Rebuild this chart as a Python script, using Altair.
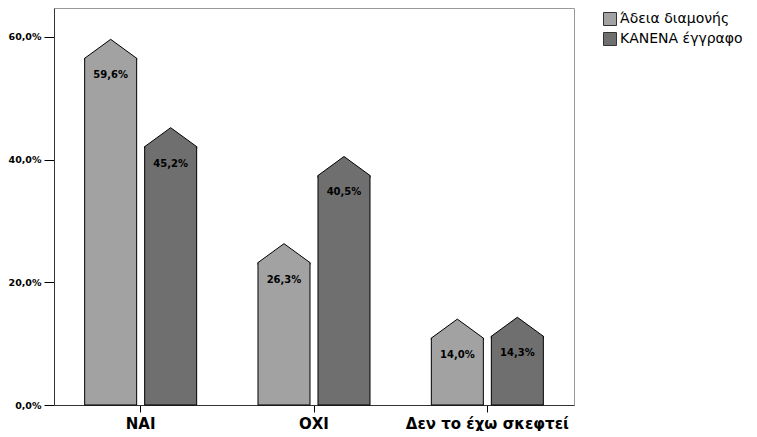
import altair as alt
import pandas as pd

categories = ["ΝΑΙ", "ΟΧΙ", "Δεν το έχω σκεφτεί"]
series = ["Άδεια διαμονής", "ΚΑΝΕΝΑ έγγραφο"]
permit_values = [59.6, 26.3, 14.0]
none_values = [45.2, 40.5, 14.3]
y_ticks = [0, 20, 40, 60]
colors = ["#a2a2a2", "#6f6f6f"]

rows = []
for s, vals in zip(series, [permit_values, none_values]):
    for c, v in zip(categories, vals):
        rows.append({"cat": c, "series": s, "value": v,
                     "label": f"{v:.1f}".replace(".", ",") + "%"})
df = pd.DataFrame(rows)

FONT = "DejaVu Sans"
PLOT_W, PLOT_H = 520, 397
Y_MAX = 64.7
CAP_PX = 19
cap = CAP_PX * Y_MAX / PLOT_H

x = alt.X("cat:N", sort=categories,
          scale=alt.Scale(paddingInner=0, paddingOuter=0),
          axis=alt.Axis(title=None, labelAngle=0, labelFont=FONT, labelFontSize=15,
                        labelFontWeight="bold", labelColor="black", tickSize=7,
                        tickColor="black", domainColor="#333", labelPadding=4))
xo = alt.XOffset("series:N", sort=series,
                 scale=alt.Scale(paddingInner=0.1333, paddingOuter=0.511))
y_scale = alt.Scale(domain=[0, Y_MAX], nice=False, zero=True)
color_scale = alt.Scale(domain=series, range=colors)

base = alt.Chart(df).transform_calculate(base="datum.value - %f" % cap)

bars = base.mark_bar(stroke="black", strokeWidth=1).encode(
    x=x, xOffset=xo,
    y=alt.Y("base:Q", scale=y_scale,
            axis=alt.Axis(title=None, values=y_ticks,
                          labelExpr="replace(format(datum.value, '.1f'), '.', ',') + '%'",
                          labelFont=FONT, labelFontSize=9.5, labelFontWeight="bold",
                          labelColor="black", tickSize=10, tickColor="black",
                          domainColor="#333", labelPadding=3, minExtent=40,
                          maxExtent=40, grid=False)),
    color=alt.Color("series:N", sort=series, scale=color_scale,
                    legend=alt.Legend(title=None, orient="none", legendX=549, legendY=4,
                                      symbolType="square", symbolSize=169,
                                      symbolStrokeColor="#333", symbolStrokeWidth=1,
                                      labelFont=FONT, labelFontSize=14, labelColor="black",
                                      labelOffset=3, rowPadding=2, padding=0)),
)

caps = base.mark_point(shape="M-1,0.08L-1,0L0,-0.73L1,0L1,0.08", size=2704,
                       filled=True, stroke="black", strokeWidth=1, opacity=1).encode(
    x=x, xOffset=xo,
    y=alt.Y("base:Q", scale=y_scale),
    fill=alt.Fill("series:N", sort=series, scale=color_scale, legend=None),
)

texts = base.mark_text(font=FONT, fontSize=10, fontWeight="bold", color="black",
                       dy=36, baseline="middle").encode(
    x=x, xOffset=xo,
    y=alt.Y("value:Q", scale=y_scale),
    text="label:N",
)

chart = alt.layer(bars, caps, texts).properties(
    width=PLOT_W, height=PLOT_H,
    padding={"left": 0, "top": 0, "right": 0, "bottom": 0},
).configure_view(stroke="#999", strokeWidth=1).configure_axis(grid=False)

chart.save("out.html", embed_options={"renderer": "svg", "actions": False})
